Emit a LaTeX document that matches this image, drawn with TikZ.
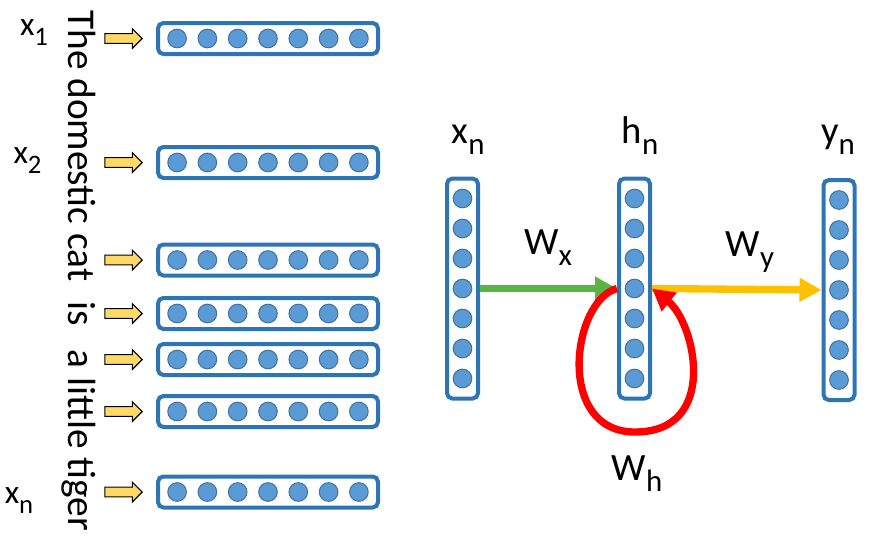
\documentclass[tikz,border=0pt]{standalone}
\usepackage{fontspec}
\setmainfont{Carlito}
\usepackage{tikz}
\usetikzlibrary{arrows.meta,positioning,shapes.arrows}

\definecolor{bleu}{RGB}{46,117,182}
\definecolor{bleuclair}{RGB}{91,155,213}
\definecolor{bleufonce}{RGB}{65,113,156}
\definecolor{jaune}{RGB}{255,217,102}
\definecolor{vert}{RGB}{88,181,68}
\definecolor{or}{RGB}{255,192,0}
\definecolor{rouge}{RGB}{255,0,0}

\newcommand{\indice}[1]{\raisebox{-0.3em}{\scalebox{0.8}{#1}}}

\begin{document}
\begin{tikzpicture}[x=0.75pt, y=-0.75pt,
    couche/.style={draw=bleu, line width=3pt, fill=white, rounded corners=4pt, inner sep=0pt},
    rangee/.style={couche, minimum width=165pt, minimum height=23.25pt},
    colonne/.style={couche, minimum width=23.25pt, minimum height=165pt},
    neurone/.style={draw=bleufonce, fill=bleuclair, line width=0.75pt, circle, inner sep=0pt, minimum size=14pt},
    fleche/.style={single arrow, draw=black, line width=0.8pt, fill=jaune, inner sep=3.2pt,
      minimum height=28pt, single arrow head extend=3.75pt, single arrow tip angle=90,
      single arrow head indent=0pt},
    lien/.style={line width=5.5pt, -{Triangle[length=16.5pt,width=17pt]}},
    petit/.style={font=\fontsize{25}{30}\selectfont, inner sep=0pt, anchor=base},
    grand/.style={font=\fontsize{29}{34}\selectfont, inner sep=0pt, anchor=base}]
    \useasboundingbox (0,0) rectangle (882,540);
    % Mots
    \foreach \y [count=\k] in {38.5,162.5,260,313.5,359.5,411.5,492} {
      \node[rangee] (r\k) at (268,\y) {};
      \foreach \i in {-3,...,3}
        \node[neurone] (r\k\i) at ({268+30.3*\i},\y) {};
      \node[fleche, left=9.75pt of r\k] (f\k) {};
    }
    \node[rotate=-90, anchor=base west, inner sep=0pt, font=\fontsize{29.5}{35}\selectfont]
      (phrase) at (68,10) {The domestic cat\hspace{15pt}is\hspace{18pt}a little tiger};
    \node[petit] (x1) at (34,35) {x\indice{1}};
    \node[petit] (x2) at (27.5,163) {x\indice{2}};
    \node[petit] (xn) at (19,503) {x\indice{n}};
    % Couches
    \foreach \nom/\x/\y in {xbox/462.5/288.5, hbox/634.5/288.5, ybox/839/290} {
      \node[colonne] (\nom) at (\x,\y) {};
      \foreach \i in {-3,...,3}
        \node[neurone] (\nom\i) at (\x,{\y+30*\i}) {};
    }
    \node[grand] (lx) at (468,143) {x\indice{n}};
    \node[grand] (lh) at (640,143) {h\indice{n}};
    \node[grand] (ly) at (838,143) {y\indice{n}};
    % Poids
    \coordinate (bas) at (635,432);
    \draw[lien, vert] (xbox.east) -- (hbox.west);
    \draw[lien, or] (hbox.east) -- (ybox.west);
    \draw[lien, rouge] (hbox.west) .. controls +(-45,12) and +(-80,0) .. (bas)
      .. controls +(85,0) and +(43,34) .. (hbox.east);
    \node[grand] (wx) at (548,254) {W\indice{x}};
    \node[grand] (wy) at (750,256) {W\indice{y}};
    \node[grand] (wh) at (637,480) {W\indice{h}};
\end{tikzpicture}
\end{document}
